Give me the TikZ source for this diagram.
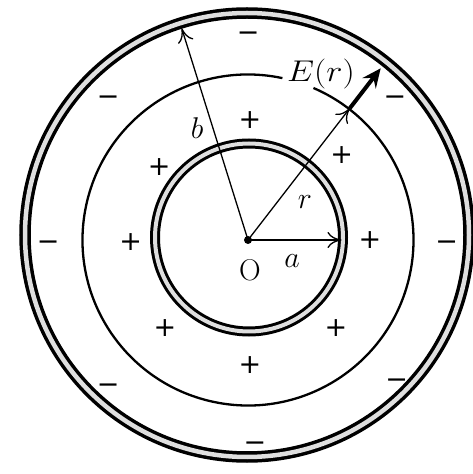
\RequirePackage{fix-cm}
\documentclass[tikz,border=0pt]{standalone}
\usepackage{fontspec}
\newfontfamily\chg{DejaVu Sans}
\usetikzlibrary{arrows.meta,calc}
\begin{document}
\begin{tikzpicture}[x=1pt,y=1pt,
  lbl/.style={inner sep=0pt, font=\fontsize{30}{34}\selectfont},
  chgsign/.style={inner sep=0pt, font=\chg\fontsize{27}{30}\selectfont},
  shell/.style={draw=black, double=gray!25, double distance=#1},
  thinarrow/.style={line width=1.3pt, -{To[length=14pt,width=16pt]}},
  thickarrow/.style={line width=4pt, -{Stealth[length=19pt,width=17pt,inset=7pt]}},
  midcircle/.style={line width=2.3pt}
]
\useasboundingbox (0,0) rectangle (473,474);
% centre
\coordinate (O) at (248,234);
\coordinate (OC) at (247,239);
% outer shell
\draw[shell=4.5pt, line width=3.5pt] (OC) circle[radius=222];
% inner shell
\draw[shell=4pt, line width=3pt] (249,236.5) circle[radius=94];
% middle (Gaussian) circle with a gap for the label
\draw[midcircle] (O) ++(78:165.5) arc[start angle=78, end angle=426.7, radius=165.5];
% arrow end points
\coordinate (ta) at (341.5,234);
\coordinate (tb) at (181.7,445.7);
\coordinate (tr) at ($(O)+(52.3:166.5)$);
\coordinate (tE) at ($(O)+(52.3:217)$);
\draw[thinarrow] (O) -- (ta);
\draw[thinarrow] (O) -- (tb);
\draw[thinarrow] (O) -- (tr);
\draw[thickarrow] (tr) -- (tE);
\fill (O) circle[radius=4];
% labels
\node[lbl] (lO) at (250,204) {O};
\node[lbl] (la) at (292,213) {$a$};
\node[lbl] (lr) at (305,272) {$r$};
\node[lbl] (lb) at (197,346) {$b$};
\node[lbl, xscale=1.15] (lE) at (321,400) {$E(r)$};
% plus charges
\node[chgsign] (p1) at (250,354) {+};
\node[chgsign] (p2) at (341.7,319) {+};
\node[chgsign] (p3) at (159.3,307.3) {+};
\node[chgsign] (p4) at (130.7,232.3) {+};
\node[chgsign] (p5) at (370,234) {+};
\node[chgsign] (p6) at (165,145.7) {+};
\node[chgsign] (p7) at (336,145.7) {+};
\node[chgsign] (p8) at (250,109) {+};
% minus charges
\node[chgsign] (m1) at (248.3,440.7) {\vphantom{+}−};
\node[chgsign] (m2) at (108.3,377.3) {\vphantom{+}−};
\node[chgsign] (m3) at (395,377.3) {\vphantom{+}−};
\node[chgsign] (m4) at (48.3,232.3) {\vphantom{+}−};
\node[chgsign] (m5) at (446.7,232.3) {\vphantom{+}−};
\node[chgsign] (m6) at (108.3,89) {\vphantom{+}−};
\node[chgsign] (m7) at (396.7,94) {\vphantom{+}−};
\node[chgsign] (m8) at (255,30.7) {\vphantom{+}−};
\end{tikzpicture}
\end{document}
